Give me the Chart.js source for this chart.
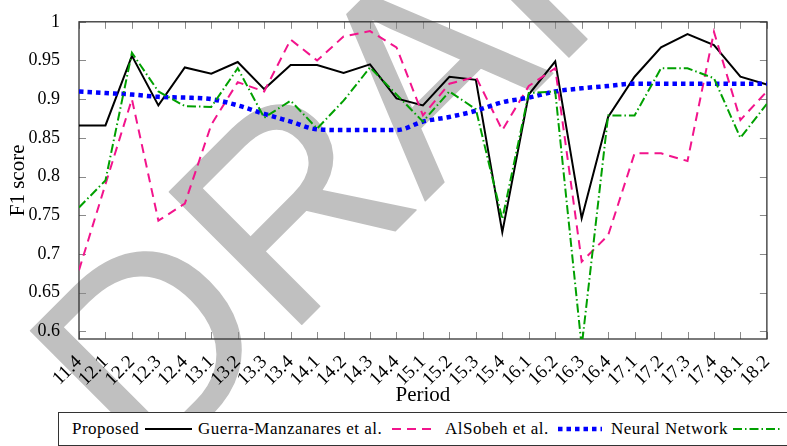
<!DOCTYPE html>
<html>
<head>
<meta charset="utf-8">
<script src="https://cdn.jsdelivr.net/npm/chart.js@4/dist/chart.umd.min.js"></script>
<style>
  html, body { margin: 0; padding: 0; background: #fff; }
  #wrap { position: relative; width: 787px; height: 446px; overflow: hidden; background: #fff; }
  #mark, #c { position: absolute; left: 0; top: 0; }
  #legend {
    position: absolute; left: 58px; top: 412px; width: 760px; height: 34px;
    box-sizing: border-box; border: 1px solid #333; background: #fff;
    font-family: 'Liberation Serif'; font-size: 17px; letter-spacing: 0.5px; color: #000; white-space: nowrap;
  }
  #legend span { position: absolute; top: 6px; }
  #legend svg { position: absolute; top: 11px; }
</style>
</head>
<body>
<div id="wrap">
  <svg id="mark" width="787" height="446">
    <g transform="translate(286,340) rotate(-45)" fill="#c0c0c0" stroke="#c0c0c0" stroke-width="1.5"
       stroke-linejoin="round" font-family="Liberation Sans" font-size="272">
      <text x="0" y="0" text-anchor="end">D</text>
      <text x="0" y="0">RAFT</text>
    </g>
  </svg>
  <canvas id="c" width="787" height="446"></canvas>
  <div id="legend"></div>
</div>
<script>
// Quarters on the x axis
const periods = ['11.4','12.1','12.2','12.3','12.4','13.1','13.2','13.3','13.4',
                 '14.1','14.2','14.3','14.4','15.1','15.2','15.3','15.4',
                 '16.1','16.2','16.3','16.4','17.1','17.2','17.3','17.4','18.1','18.2'];

// F1 score per period for each method
const proposed = [0.866,0.866,0.956,0.892,0.941,0.933,0.948,0.913,0.944,0.944,0.934,0.945,0.901,
                  0.892,0.929,0.925,0.728,0.906,0.949,0.746,0.877,0.929,0.967,0.984,0.970,0.929,0.919];
const guerraManzanares = [0.679,0.790,0.900,0.743,0.765,0.867,0.922,0.910,0.977,0.950,0.981,0.988,0.967,
                  0.879,0.920,0.929,0.860,0.917,0.940,0.690,0.724,0.830,0.830,0.820,0.987,0.873,0.910];
const alSobeh = [0.910,0.908,0.906,0.903,0.902,0.900,0.892,0.881,0.871,0.861,0.860,0.860,0.860,
                  0.871,0.877,0.885,0.896,0.902,0.910,0.914,0.917,0.920,0.920,0.920,0.920,0.920,0.920];
const neuralNetwork = [0.760,0.795,0.960,0.910,0.891,0.890,0.940,0.876,0.898,0.862,0.898,0.941,0.906,
                  0.871,0.910,0.887,0.745,0.908,0.910,0.580,0.879,0.879,0.940,0.940,0.927,0.850,0.894];

// y axis ticks
const yTicks = [0.6,0.65,0.7,0.75,0.8,0.85,0.9,0.95,1];
const yTickLabels = ['0.6','0.65','0.7','0.75','0.8','0.85','0.9','0.95','1'];

const series = [
  { label: 'Proposed', data: proposed, color: '#000000', width: 2, dash: [] },
  { label: 'Guerra-Manzanares et al.', data: guerraManzanares, color: '#f2148c', width: 2, dash: [9, 6] },
  { label: 'AlSobeh et al.', data: alSobeh, color: '#0000ff', width: 4.5, dash: [4.5, 4], smooth: true },
  { label: 'Neural Network', data: neuralNetwork, color: '#00a000', width: 2, dash: [9, 3, 1.5, 3] }
];

// legend layout: text start, key start, key end
const legendPos = [[72, 145, 192], [198, 392, 436], [445, 558, 602], [611, 733, 780]];

const FAMILY = '"Times New Roman", "Liberation Serif", serif';

// Box with inward tick marks on all four sides
const frame = {
  id: 'frame',
  beforeDatasetsDraw(chart) {
    const { ctx, chartArea: a, scales: { x, y } } = chart;
    const seg = (x1, y1, x2, y2) => { ctx.beginPath(); ctx.moveTo(x1, y1); ctx.lineTo(x2, y2); ctx.stroke(); };
    ctx.save();
    ctx.strokeStyle = '#8a8a8a';
    ctx.lineWidth = 1;
    x.ticks.forEach((t, i) => {
      const px = Math.round(x.getPixelForTick(i)) + 0.5;
      seg(px, a.bottom, px, a.bottom - 7);
      seg(px, a.top, px, a.top + 7);
    });
    y.ticks.forEach((t, i) => {
      const py = Math.round(y.getPixelForTick(i)) + 0.5;
      seg(a.left, py, a.left + 7, py);
      seg(a.right, py, a.right - 7, py);
    });
    ctx.strokeStyle = '#333';
    ctx.lineWidth = 1.3;
    ctx.strokeRect(a.left, a.top, a.right - a.left, a.bottom - a.top);
    ctx.restore();
  }
};

function draw() {
  Chart.defaults.font.family = FAMILY;
  Chart.defaults.font.size = 18;
  Chart.defaults.color = '#000';

  new Chart(document.getElementById('c'), {
    type: 'line',
    data: {
      labels: periods,
      datasets: series.map((s, i) => ({
        label: s.label,
        data: s.data,
        borderColor: s.color,
        backgroundColor: s.color,
        borderWidth: s.width,
        borderDash: s.dash,
        borderCapStyle: 'butt',
        borderJoinStyle: 'miter',
        pointRadius: 0,
        fill: false,
        clip: 0,
        cubicInterpolationMode: s.smooth ? 'monotone' : 'default',
        tension: 0,
        order: series.length - i
      }))
    },
    options: {
      responsive: false,
      animation: false,
      devicePixelRatio: 1,
      layout: { padding: { top: 10, right: 17, left: 0, bottom: 0 } },
      plugins: { legend: { display: false }, tooltip: { enabled: false } },
      scales: {
        x: {
          type: 'category',
          offset: false,
          grid: { display: false },
          border: { display: false },
          ticks: { autoSkip: false, maxRotation: 45, minRotation: 45, padding: 4,
                   font: { family: FAMILY, size: 19 } },
          title: { display: true, text: 'Period', font: { family: FAMILY, size: 21 }, padding: { top: 0, bottom: 38 } },
          afterFit(s) { s.height = 107; }
        },
        y: {
          min: 0.59,
          max: 1,
          grid: { display: false },
          border: { display: false },
          afterBuildTicks(s) { s.ticks = yTicks.map(v => ({ value: v })); },
          ticks: { padding: 11, font: { family: FAMILY, size: 18 }, callback: (v, i) => yTickLabels[i] },
          title: { display: true, text: 'F1 score', font: { family: FAMILY, size: 21 }, padding: { top: 6, bottom: 0 } },
          afterFit(s) { s.width = 79; }
        }
      }
    },
    plugins: [frame]
  });

  // Legend row: name followed by a sample of the line style
  const legend = document.getElementById('legend');
  const ns = 'http://www.w3.org/2000/svg';
  series.forEach((s, i) => {
    const [tx, k0, k1] = legendPos[i];
    const name = document.createElement('span');
    name.textContent = s.label;
    name.style.left = (tx - 59) + 'px';
    legend.appendChild(name);
    const svg = document.createElementNS(ns, 'svg');
    svg.setAttribute('width', String(k1 - k0));
    svg.setAttribute('height', '10');
    svg.style.left = (k0 - 59) + 'px';
    const ln = document.createElementNS(ns, 'line');
    ln.setAttribute('x1', '0'); ln.setAttribute('y1', '5');
    ln.setAttribute('x2', String(k1 - k0)); ln.setAttribute('y2', '5');
    ln.setAttribute('stroke', s.color);
    ln.setAttribute('stroke-width', String(s.width));
    if (s.dash.length) ln.setAttribute('stroke-dasharray', s.dash.join(' '));
    svg.appendChild(ln);
    legend.appendChild(svg);
  });
}

Promise.all([
  document.fonts.load('18px "Times New Roman"'),
  document.fonts.load("18px 'Liberation Serif'"),
  document.fonts.load("272px 'Liberation Sans'")
]).then(draw, draw);
</script>
</body>
</html>
